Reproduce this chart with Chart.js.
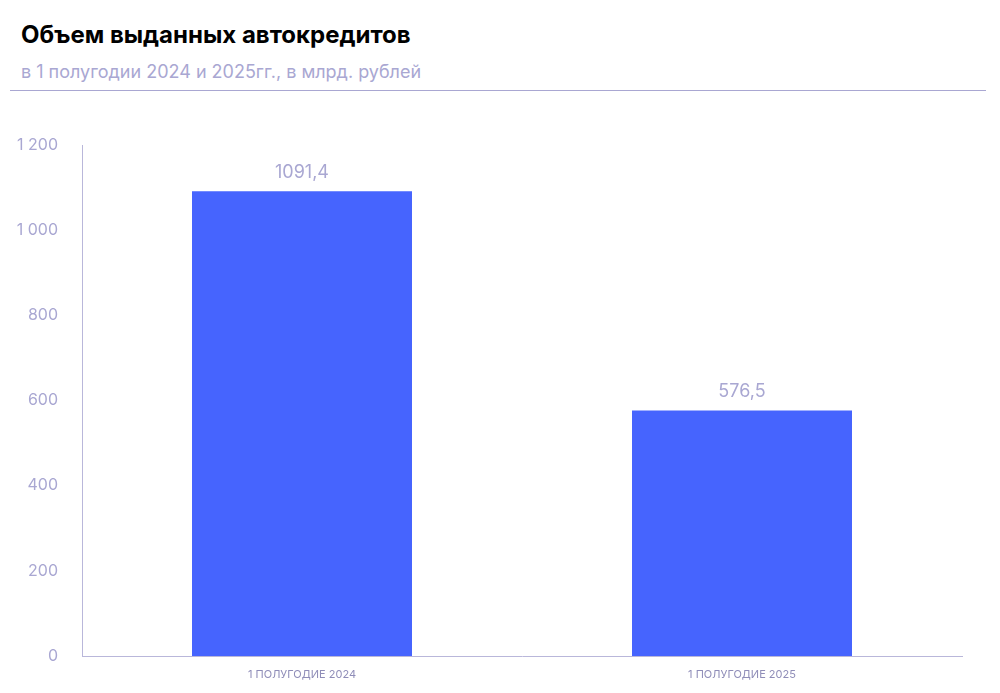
<!DOCTYPE html>
<html>
<head>
<meta charset="utf-8">
<script src="https://cdn.jsdelivr.net/npm/chart.js@4"></script>
<style>
  body { margin: 0; background: #fff; font-family: Inter, sans-serif; }
  h1 { position: absolute; left: 21px; top: 20px; margin: 0; font-size: 24px; font-weight: 700; color: #000; }
  .sub { position: absolute; left: 21px; top: 61px; font-size: 18px; color: #a9a7d2; }
  .rule { position: absolute; left: 10px; top: 90px; width: 976px; height: 1px; background: #a9a7d2; }
  #wrap { position: absolute; left: 0; top: 100px; width: 1000px; height: 593px; }
</style>
</head>
<body>
<h1>Объем выданных автокредитов</h1>
<div class="sub">в 1 полугодии 2024 и 2025гг., в млрд. рублей</div>
<div class="rule"></div>
<div id="wrap"><canvas id="c"></canvas></div>
<script>
var categories = ['1 ПОЛУГОДИЕ 2024', '1 ПОЛУГОДИЕ 2025'];
var volumes = [1091.4, 576.5];

var axisColor = '#b9b7da';
var textColor = '#a9a7d2';

// подписи значений над столбцами
var valueLabels = {
    id: 'valueLabels',
    afterDatasetsDraw: function(chart) {
        var ctx = chart.ctx;
        ctx.save();
        ctx.font = '18px Inter, sans-serif';
        ctx.fillStyle = textColor;
        ctx.textAlign = 'center';
        ctx.textBaseline = 'bottom';
        chart.getDatasetMeta(0).data.forEach(function(bar, i) {
            ctx.fillText(volumes[i].toFixed(1).replace('.', ','), bar.x, bar.y - 10);
        });
        ctx.restore();
    }
};

new Chart(document.getElementById('c'), {
    type: 'bar',
    data: {
        labels: categories,
        datasets: [{
            data: volumes,
            backgroundColor: '#4664fe',
            categoryPercentage: 1,
            barPercentage: 0.5
        }]
    },
    options: {
        responsive: true,
        maintainAspectRatio: false,
        animation: false,
        layout: { padding: { top: 45, right: 38, left: 0, bottom: 0 } },
        plugins: { legend: { display: false }, tooltip: { enabled: false } },
        scales: {
            x: {
                grid: { display: false, drawTicks: true },
                border: { color: axisColor },
                ticks: { color: '#8f8db8', font: { size: 11, family: 'Inter, sans-serif' }, padding: 4 },
                afterFit: function(s) { s.height = 37; }
            },
            y: {
                min: 0, max: 1200,
                grid: { display: false },
                border: { color: axisColor },
                ticks: {
                    stepSize: 200,
                    color: textColor,
                    font: { size: 16, family: 'Inter, sans-serif' },
                    padding: 16,
                    callback: function(v) { return String(v).replace(/\B(?=(\d{3})+(?!\d))/g, ' '); }
                },
                afterFit: function(s) { s.width = 82; }
            }
        }
    },
    plugins: [valueLabels]
});
</script>
</body>
</html>
